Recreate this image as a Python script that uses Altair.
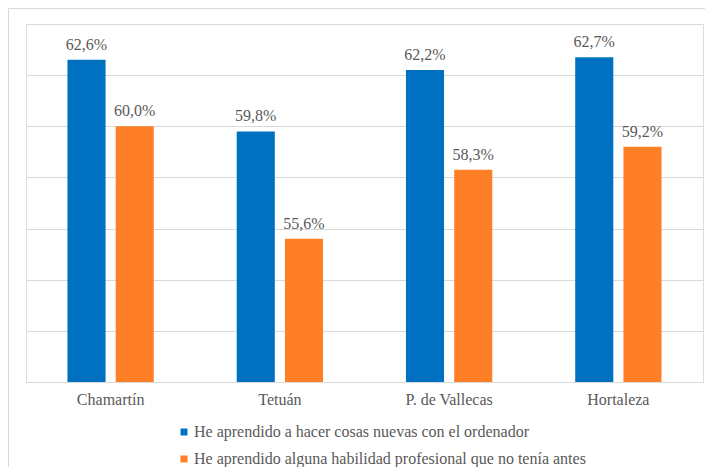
import altair as alt
import pandas as pd

categories = ["Chamartín", "Tetuán", "P. de Vallecas", "Hortaleza"]
series_names = [
    "He aprendido a hacer cosas nuevas con el ordenador",
    "He aprendido alguna habilidad profesional que no tenía antes",
]
values_s1 = [62.6, 59.8, 62.2, 62.7]
values_s2 = [60.0, 55.6, 58.3, 59.2]
colors = ["#0070C0", "#FF7F27"]

rows = []
for i, c in enumerate(categories):
    for s, vals in zip(series_names, [values_s1, values_s2]):
        v = vals[i]
        rows.append({"cat": c, "serie": s, "val": v,
                     "label": f"{v:.1f}%".replace(".", ",")})
df = pd.DataFrame(rows)

W, H = 677, 358
FONT = "Liberation Serif"
GRAY = "#595959"

x = alt.X("cat:N", sort=categories, title=None,
          scale=alt.Scale(paddingInner=0.49, paddingOuter=0.245),
          axis=alt.Axis(labelAngle=0, ticks=False, domain=True, domainColor="#d9d9d9",
                        labelFont=FONT, labelFontSize=16, labelColor=GRAY, labelPadding=9))
xo = alt.XOffset("serie:N", sort=series_names,
                 scale=alt.Scale(paddingInner=0.21, paddingOuter=0))
y = alt.Y("val:Q", title=None,
          scale=alt.Scale(domain=[50, 64], nice=False, zero=False),
          axis=alt.Axis(values=[50, 52, 54, 56, 58, 60, 62, 64], labels=False, ticks=False,
                        domain=False, grid=True, gridColor="#d9d9d9", gridWidth=1))
color = alt.Color("serie:N", sort=series_names,
                  scale=alt.Scale(domain=series_names, range=colors),
                  legend=alt.Legend(title=None, orient="none", legendX=150, legendY=400,
                                    direction="vertical", symbolType="square", symbolSize=49,
                                    symbolStrokeWidth=0, labelFont=FONT, labelFontSize=16,
                                    labelColor=GRAY, labelOffset=2, rowPadding=11, padding=0,
                                    labelLimit=600))

base = alt.Chart(df)
bars = base.mark_bar(clip=True).encode(x=x, xOffset=xo, y=y, y2=alt.datum(50), color=color)
texts = base.mark_text(dy=-7, baseline="bottom", font=FONT, fontSize=16, color=GRAY).encode(
    x=x, xOffset=xo, y=y, text="label:N")

border = alt.Chart(pd.DataFrame({"a": [0]})).mark_rect(
    fill="transparent", stroke="#d9d9d9", strokeWidth=1, clip=False).encode(
    x=alt.value(-17.5), x2=alt.value(W + 40), y=alt.value(-15.5), y2=alt.value(H + 120))

chart = alt.layer(bars, texts, border).properties(
    width=W, height=H,
    autosize=alt.AutoSizeParams(type="none"),
    padding={"left": 18, "top": 16, "right": 2, "bottom": 85},
).configure_view(strokeWidth=0).configure(background="white")

chart.save("out.html", embed_options={"renderer": "svg", "actions": False})
